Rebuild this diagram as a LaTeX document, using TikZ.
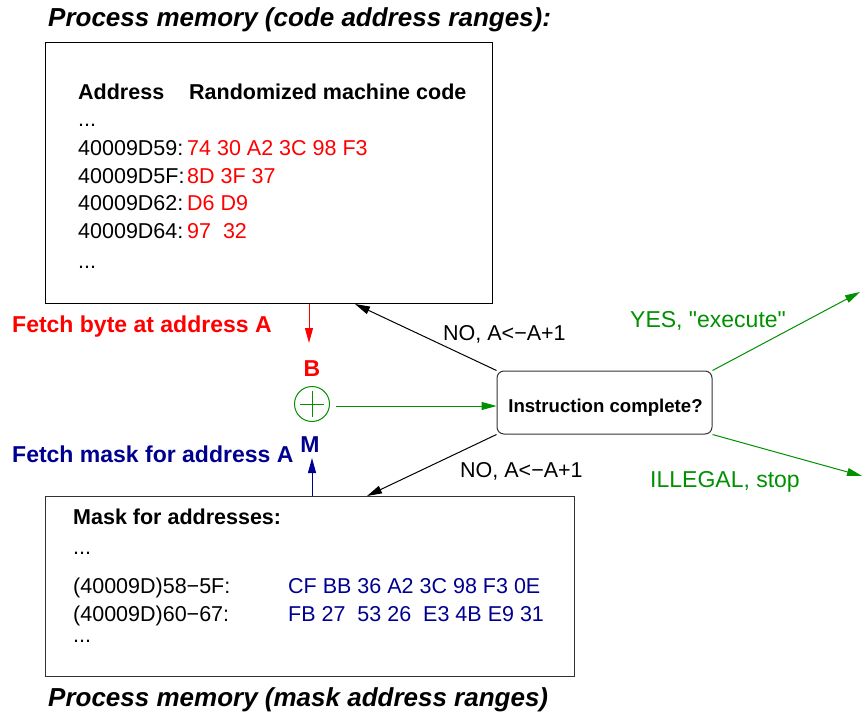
\documentclass[tikz,border=0pt]{standalone}
\usepackage{fontspec}
\setmainfont{Liberation Sans}[Ligatures=TeXOff]
\usetikzlibrary{arrows.meta,calc}
\definecolor{xred}{RGB}{255,0,0}
\definecolor{xblue}{RGB}{0,0,144}
\definecolor{xgreen}{RGB}{0,144,0}
\definecolor{xgray}{RGB}{50,50,50}
\begin{document}
\begin{tikzpicture}[x=1pt,y=-1pt,
  txt/.style={anchor=base west,inner sep=0pt,font=\fontsize{21.5}{24}\selectfont},
  btxt/.style={anchor=base west,inner sep=0pt,font=\fontsize{21.5}{24}\selectfont\bfseries},
  lbl/.style={anchor=base west,inner sep=0pt,font=\fontsize{23}{26}\selectfont\bfseries},
  glbl/.style={anchor=base west,inner sep=0pt,text=xgreen,font=\fontsize{23}{26}\selectfont},
  ttl/.style={anchor=base west,inner sep=0pt,font=\fontsize{26}{30}\selectfont\bfseries\itshape},
  membox/.style={draw,line width=1pt,inner sep=0pt,anchor=north west},
  arr/.style={line width=1pt,-{Triangle[length=15pt,width=8pt]}}
]
\useasboundingbox (0,0) rectangle (864,712);

% titles
\node[ttl] (title1) at (48,27) {Process memory (code address ranges):};
\node[ttl] (title2) at (48,706) {Process memory (mask address ranges)};

% top box
\node[membox,minimum width=447pt,minimum height=261pt] (topbox) at (45,42) {};
\node[btxt] (hdrA) at (78,99) {Address};
\node[btxt] (hdrR) at (189,99) {Randomized machine code};
\node[txt] (dots1) at (78,126) {...};
\node[txt] (a1) at (78,155) {40009D59:};
\node[txt] (a2) at (78,183) {40009D5F:};
\node[txt] (a3) at (78,210) {40009D62:};
\node[txt] (a4) at (78,238) {40009D64:};
\node[txt] (dots2) at (78,268) {...};
\node[txt,text=xred] (c1) at (187,155) {74 30 A2 3C 98 F3};
\node[txt,text=xred] (c2) at (187,183) {8D 3F 37};
\node[txt,text=xred] (c3) at (187,210) {D6 D9};
\node[txt,text=xred] (c4) at (187,238) {97\ \ 32};

% bottom box
\node[membox,draw=xgray,minimum width=529pt,minimum height=180pt] (botbox) at (45,496) {};
\node[btxt] (mhdr) at (73,524) {Mask for addresses:};
\node[txt] (dots3) at (73,554) {...};
\node[txt] (r1) at (73,593) {(40009D)58−5F:};
\node[txt] (r2) at (73,621) {(40009D)60−67:};
\node[txt] (dots4) at (73,642) {...};
\node[txt,text=xblue] (h1) at (288,593) {CF BB 36 A2 3C 98 F3 0E};
\node[txt,text=xblue] (h2) at (288,621) {FB 27\ \ 53 26\ \ E3 4B E9 31};

% fetch labels
\node[lbl,text=xred] (fetch1) at (12,332) {Fetch byte at address A};
\node[lbl,text=xblue] (fetch2) at (12,462) {Fetch mask for address A};
\node[lbl,text=xred,anchor=base] (B) at (312,376) {B};
\node[lbl,text=xblue,anchor=base] (M) at (310,452) {M};

% xor
\node[circle,draw=xgreen,line width=1pt,minimum size=35pt,inner sep=0pt] (xor) at (312,404) {};
\draw[xgreen,line width=1pt] ($(xor.center)+(-12,0)$) -- ($(xor.center)+(12,0)$);
\draw[xgreen,line width=1pt] ($(xor.center)+(0,-13)$) -- ($(xor.center)+(0,13)$);

% decision
\node[draw=xgray,line width=1pt,rounded corners=7pt,minimum width=215pt,minimum height=63pt,inner sep=0pt] (dec) at (604.5,402.5) {};
\node[anchor=base,inner sep=0pt,font=\fontsize{18.6}{22}\selectfont\bfseries] (dectext) at (605.5,412) {Instruction complete?};

% labels on arrows
\node[txt] (no1) at (443,340) {NO, A<−A+1};
\node[txt] (no2) at (460,477) {NO, A<−A+1};
\node[glbl] (yes) at (630,327) {YES, "execute"};
\node[glbl] (ill) at (650,487) {ILLEGAL, stop};

% connectors
\coordinate (redtip) at (309,343);
\draw[arr,xred] (topbox.south -| redtip) -- (redtip);
\coordinate (bluetip) at (312,458);
\draw[arr,xblue] (botbox.north -| bluetip) -- (bluetip);
\coordinate (gstart) at (336,406);
\draw[arr,xgreen] (gstart) -- (gstart -| dec.west);
\coordinate (notip) at (355,304);
\draw[arr,black] (dec.north west) -- (notip);
\coordinate (no2tip) at (367,496);
\draw[arr,black] (dec.south west) -- (no2tip);
\coordinate (yestip) at (860,292);
\draw[arr,xgreen] (dec.north east) -- (yestip);
\coordinate (illtip) at (862,476);
\draw[arr,xgreen] (dec.south east) -- (illtip);
\end{tikzpicture}
\end{document}
